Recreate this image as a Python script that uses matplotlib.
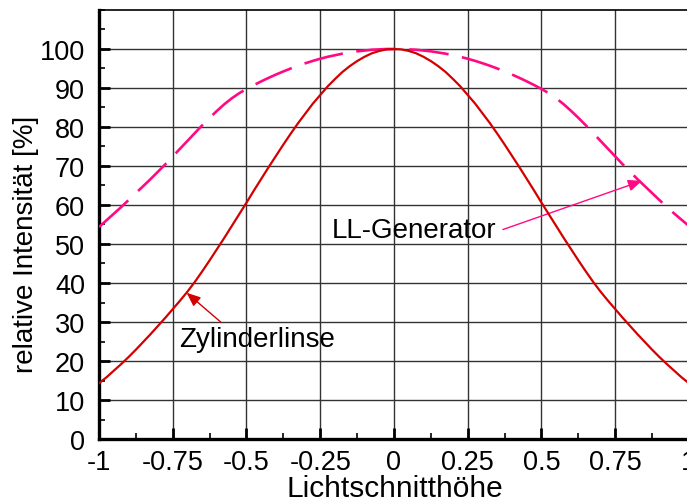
import numpy as np
import matplotlib
matplotlib.use('Agg')
import matplotlib.pyplot as plt
from matplotlib.ticker import MultipleLocator, FixedLocator

plt.rcParams['font.family'] = ['Liberation Sans', 'DejaVu Sans']

# Lichtschnitthöhe, Schritt 0.025
hoehe = np.round(np.linspace(-1.0, 1.0, 81), 3)

# relative Intensität [%], von -1 bis +1
zylinderlinse = [
    14.3, 15.8, 17.5, 19.2, 21.0, 22.9, 24.9, 26.9, 29.0, 31.1,
    33.3, 35.5, 37.8, 40.3, 43.0, 45.8, 48.7, 51.6, 54.6, 57.6,
    60.6, 63.7, 66.7, 69.7, 72.6, 75.5, 78.3, 81.0, 83.5, 86.0,
    88.2, 90.4, 92.3, 94.1, 95.6, 96.9, 98.0, 98.9, 99.5, 99.9,
    100.0,
    99.9, 99.5, 98.9, 98.0, 96.9, 95.6, 94.1, 92.3, 90.4, 88.2,
    86.0, 83.5, 81.0, 78.3, 75.5, 72.6, 69.7, 66.7, 63.7, 60.6,
    57.6, 54.6, 51.6, 48.7, 45.8, 43.0, 40.3, 37.8, 35.5, 33.3,
    31.1, 29.0, 26.9, 24.9, 22.9, 21.0, 19.2, 17.5, 15.8, 14.3]
ll_generator = [
    54.35, 56.05, 57.75, 59.45, 61.25, 63.05, 64.85, 66.65, 68.55, 70.45,
    72.45, 74.45, 76.45, 78.45, 80.45, 82.35, 84.15, 85.85, 87.35, 88.65,
    89.75, 90.75, 91.7, 92.6, 93.45, 94.25, 95.0, 95.7, 96.35, 96.95,
    97.5, 98.0, 98.4, 98.8, 99.1, 99.4, 99.6, 99.8, 99.9, 100.0,
    100.0,
    100.0, 99.9, 99.8, 99.6, 99.4, 99.1, 98.8, 98.4, 98.0, 97.5,
    96.95, 96.35, 95.7, 95.0, 94.25, 93.45, 92.6, 91.7, 90.75, 89.75,
    88.65, 87.35, 85.85, 84.15, 82.35, 80.45, 78.45, 76.45, 74.45, 72.45,
    70.45, 68.55, 66.65, 64.85, 63.05, 61.25, 59.5, 57.8, 56.2, 54.6]

x_ticks = [-1, -0.75, -0.5, -0.25, 0, 0.25, 0.5, 0.75, 1]
x_ticklabels = ['-1', '-0.75', '-0.5', '-0.25', '0', '0.25', '0.5', '0.75', '1']
y_ticks = list(range(0, 101, 10))

rot = '#d40000'
magenta = '#ff0a84'

fig = plt.figure(figsize=(6.87, 5.02), dpi=100)
ax = fig.add_axes([0.1441, 0.1235, 0.8588, 0.8546])

lw_ll = 1.9
ax.plot(hoehe, ll_generator, color=magenta, lw=lw_ll,
        linestyle=(0, (28.5 / lw_ll, 9.8 / lw_ll)), zorder=3)
ax.plot(hoehe, zylinderlinse, color=rot, lw=1.6, zorder=4)

ax.set_xlim(-1, 1)
ax.set_ylim(0, 110)
ax.xaxis.set_major_locator(FixedLocator(x_ticks))
ax.set_xticklabels(x_ticklabels)
ax.xaxis.set_minor_locator(MultipleLocator(0.125))
ax.yaxis.set_major_locator(FixedLocator(y_ticks))
ax.yaxis.set_minor_locator(MultipleLocator(5))

ax.grid(True, which='major', color='#333333', lw=1.0, zorder=1)
ax.tick_params(which='major', direction='in', length=8, width=2.0,
               labelsize=19.5, top=False, right=False)
ax.tick_params(axis='x', which='major', pad=7)
ax.tick_params(axis='y', which='major', pad=10)
ax.tick_params(which='minor', direction='in', length=4.5, width=1.2,
               top=False, right=False)

for side in ['left', 'bottom']:
    ax.spines[side].set_linewidth(2.4)
ax.spines['top'].set_linewidth(1.2)
ax.spines['right'].set_linewidth(1.2)

ax.set_xlabel('Lichtschnitthöhe', fontsize=21.5)
ax.set_ylabel('relative Intensität [%]', fontsize=20)
ax.xaxis.set_label_coords(0.502, -0.082)
ax.yaxis.set_label_coords(-0.101, 0.455)

pfeil = '-|>,head_length=0.6,head_width=0.25'
ax.annotate('', xy=(-0.703, 37.5), xytext=(-0.586, 29.9),
            arrowprops=dict(arrowstyle=pfeil, color=rot, lw=1.0,
                            mutation_scale=14, shrinkA=0, shrinkB=0))
ax.text(-0.729, 25.6, 'Zylinderlinse', fontsize=20, va='center', ha='left')

ax.annotate('', xy=(0.841, 66.2), xytext=(0.369, 53.7),
            arrowprops=dict(arrowstyle=pfeil, color=magenta, lw=1.0,
                            mutation_scale=14, shrinkA=0, shrinkB=0))
ax.text(-0.21, 53.7, 'LL-Generator', fontsize=20, va='center', ha='left')

fig.savefig('out.png', dpi=100)
